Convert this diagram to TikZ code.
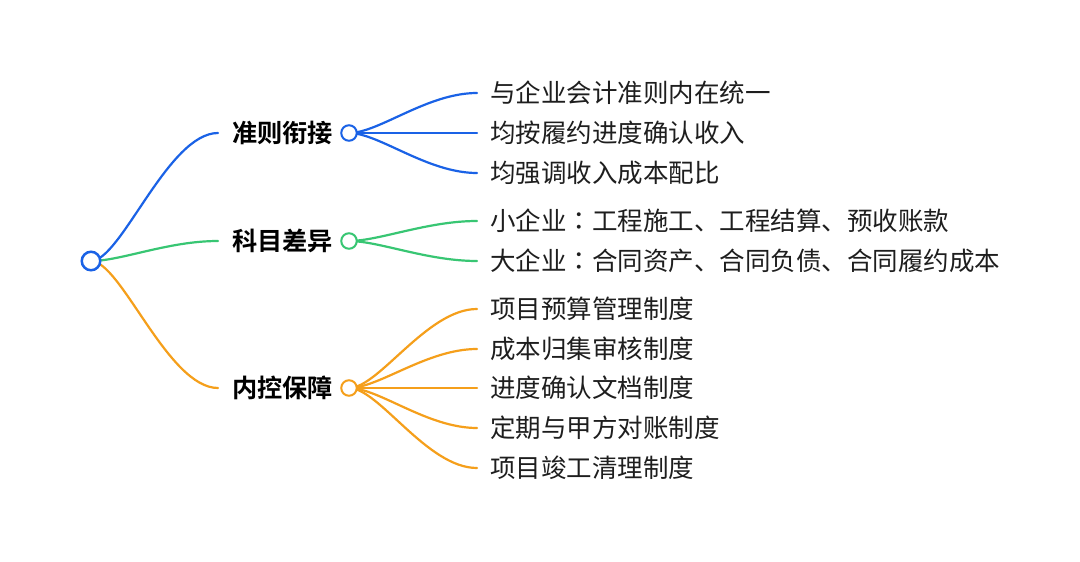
\documentclass[tikz,border=0pt]{standalone}
\usepackage{fontspec}
\setmainfont{Noto Sans CJK SC}[BoldFont={Noto Sans CJK SC Bold}]
\newfontfamily\tcfont{Noto Sans CJK TC}
\usetikzlibrary{calc,backgrounds}
\definecolor{cblue}{HTML}{1A62E6}
\definecolor{cgreen}{HTML}{38C673}
\definecolor{corange}{HTML}{F59F1B}
\definecolor{ctext}{HTML}{1E1E1E}
\newcommand{\fwcolon}{{\tcfont ：}}
\tikzset{
  rootdot/.style={circle,draw=cblue,fill=white,line width=2.5pt,minimum size=18.5pt,inner sep=0pt},
  hubdot/.style={circle,fill=white,line width=2pt,minimum size=15.5pt,inner sep=0pt},
  branchtxt/.style={anchor=west,inner sep=0pt,font=\fontsize{25.2}{30}\selectfont\bfseries,text=black},
  leaftxt/.style={anchor=west,inner sep=0pt,font=\fontsize{25.5}{30}\selectfont,text=ctext},
  link/.style={line width=2.2pt,line cap=round}
}
\begin{document}
\begin{tikzpicture}[x=1pt,y=-1pt]
\useasboundingbox (0,0) rectangle (1080,562);
% root
\node[rootdot] (root) at (91,261) {};
% branches
\node[branchtxt] (b1) at (232,133) {准则衔接};
\node[branchtxt] (b2) at (232,241) {科目差异};
\node[branchtxt] (b3) at (232,388) {内控保障};
\node[hubdot,draw=cblue] (c1) at (349,133) {};
\node[hubdot,draw=cgreen] (c2) at (349,241) {};
\node[hubdot,draw=corange] (c3) at (349,388) {};
% leaves
\node[leaftxt] (l11) at (490,93) {与企业会计准则内在统一};
\node[leaftxt] (l12) at (490,133) {均按履约进度确认收入};
\node[leaftxt] (l13) at (490,173) {均强调收入成本配比};
\node[leaftxt] (l21) at (490,221) {小企业\fwcolon 工程施工、工程结算、预收账款};
\node[leaftxt] (l22) at (490,261) {大企业\fwcolon 合同资产、合同负债、合同履约成本};
\node[leaftxt] (l31) at (490,309) {项目预算管理制度};
\node[leaftxt] (l32) at (490,349) {成本归集审核制度};
\node[leaftxt] (l33) at (490,388) {进度确认文档制度};
\node[leaftxt] (l34) at (490,428) {定期与甲方对账制度};
\node[leaftxt] (l35) at (490,468) {项目竣工清理制度};
\begin{scope}[on background layer]
  \fill[white] (0,0) rectangle (1080,562);
  \draw[link,cblue] (root.center) .. controls +(30,0) and +(-50,0) .. ($(b1.west)+(-14,0)$);
  \draw[link,cgreen] (root.center) .. controls +(30,0) and +(-50,0) .. ($(b2.west)+(-14,0)$);
  \draw[link,corange] (root.center) .. controls +(30,0) and +(-50,0) .. ($(b3.west)+(-14,0)$);
  \foreach \l in {l11,l12,l13}
    \draw[link,cblue] (c1.center) .. controls +(30,0) and +(-50,0) .. ($(\l.west)+(-13,0)$);
  \foreach \l in {l21,l22}
    \draw[link,cgreen] (c2.center) .. controls +(30,0) and +(-50,0) .. ($(\l.west)+(-13,0)$);
  \foreach \l in {l31,l32,l33,l34,l35}
    \draw[link,corange] (c3.center) .. controls +(30,0) and +(-50,0) .. ($(\l.west)+(-13,0)$);
\end{scope}
\end{tikzpicture}
\end{document}
